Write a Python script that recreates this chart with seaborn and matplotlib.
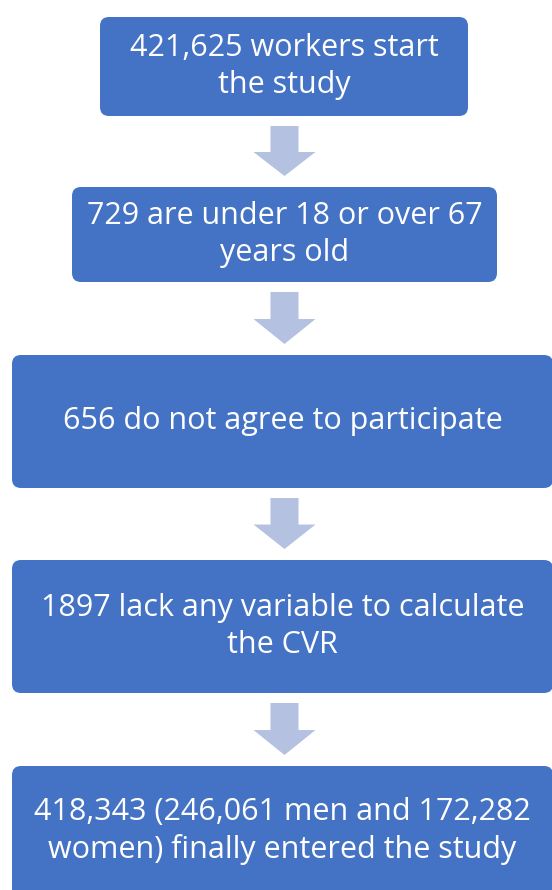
"""
Study flowchart: workers excluded step by step until the final cohort.
Output: out.png (552x890)
"""
import matplotlib.pyplot as plt
from matplotlib.patches import FancyBboxPatch
import seaborn as sns

# chart text
steps = [
    "421,625 workers start\nthe study",
    "729 are under 18 or over 67\nyears old",
    "656 do not agree to participate",
    "1897 lack any variable to calculate\nthe CVR",
    "418,343 (246,061 men and 172,282\nwomen) finally entered the study",
]

# layout in pixels: (left, top, right, bottom)
boxes = [
    (100, 17, 468, 116),
    (72, 187, 497, 282),
    (12, 355, 553, 488),
    (12, 560, 553, 693),
    (12, 766, 553, 905),
]
box_color = '#4472C4'
arrow_color = '#B4C1E1'

sns.set_theme(style='white')
plt.rcParams['font.family'] = ['Open Sans', 'DejaVu Sans']

fig = plt.figure(figsize=(5.52, 8.90), dpi=100)
ax = fig.add_axes([0, 0, 1, 1])
ax.set_xlim(0, 552)
ax.set_ylim(890, 0)
ax.axis('off')

for (l, t, r, b), label in zip(boxes, steps):
    ax.add_patch(FancyBboxPatch((l, t), r - l, b - t,
                                boxstyle='round,pad=0,rounding_size=9',
                                facecolor=box_color, edgecolor='none'))
    cy = (t + b) / 2 if b < 890 else (t + 890) / 2 + 3
    ax.text((l + r) / 2, cy, label,
            ha='center', va='center', color='white', fontsize=22,
            linespacing=1.3)

# block arrows between boxes
for (l1, t1, r1, b1), (l2, t2, r2, b2) in zip(boxes[:-1], boxes[1:]):
    cx = 284.5
    top = b1 + 10
    tip = t2 - 11
    head = top + (tip - top) * 0.52
    xs = [cx - 14, cx + 14, cx + 14, cx + 31, cx, cx - 31, cx - 14]
    ys = [top, top, head, head, tip, head, head]
    ax.fill(xs, ys, color=arrow_color, lw=0)

fig.savefig('out.png', dpi=100)
plt.close(fig)
